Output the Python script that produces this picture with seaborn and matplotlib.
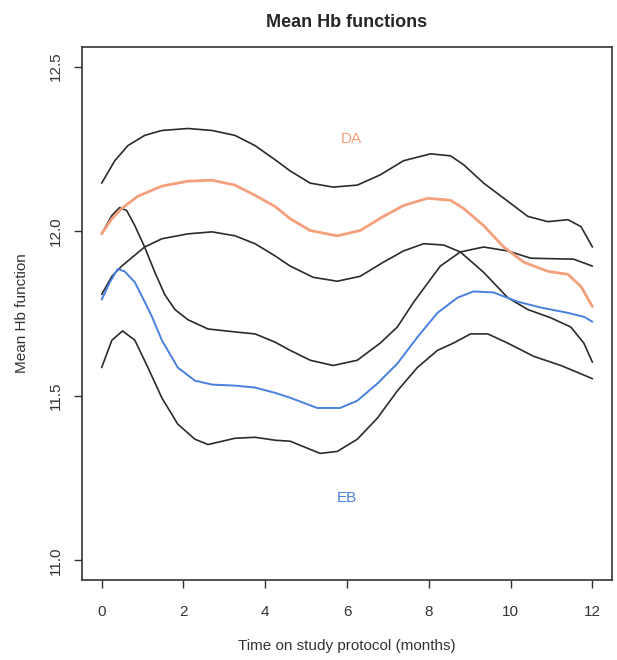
import numpy as np
import pandas as pd
import seaborn as sns
import matplotlib
matplotlib.use('Agg')
import matplotlib.pyplot as plt

# values (time in months, mean Hb)
da_upper_t = [0, 0.32, 0.64, 1.05, 1.47, 2.11, 2.70, 3.26, 3.75, 4.24, 4.61, 5.10, 5.66, 6.25, 6.81,
              7.38, 8.04, 8.53, 8.85, 9.34, 9.93, 10.42, 10.91, 11.40, 11.72, 12.0]
da_upper_y = [12.146, 12.214, 12.260, 12.291, 12.306, 12.312, 12.306, 12.291, 12.260, 12.217, 12.183, 12.146,
              12.134, 12.140, 12.171, 12.214, 12.235, 12.229, 12.202, 12.146, 12.091, 12.045, 12.029, 12.035,
              12.014, 11.952]

da_mean_t = [0, 0.25, 0.49, 0.88, 1.47, 2.11, 2.70, 3.26, 3.75, 4.24, 4.61, 5.10, 5.76, 6.32, 6.89,
             7.38, 7.97, 8.53, 8.85, 9.34, 9.83, 10.32, 10.91, 11.40, 11.72, 12.0]
da_mean_y = [11.992, 12.038, 12.069, 12.106, 12.137, 12.152, 12.155, 12.140, 12.109, 12.075, 12.038, 12.002,
             11.986, 12.002, 12.045, 12.078, 12.100, 12.094, 12.069, 12.017, 11.952, 11.906, 11.878, 11.869,
             11.832, 11.771]

da_lower_t = [0, 0.25, 0.49, 1.05, 1.47, 2.11, 2.70, 3.26, 3.75, 4.24, 4.61, 5.17, 5.76, 6.32, 6.89,
              7.38, 7.87, 8.36, 8.77, 9.34, 9.93, 10.42, 10.98, 11.47, 11.79, 12.0]
da_lower_y = [11.808, 11.863, 11.894, 11.952, 11.977, 11.992, 11.998, 11.986, 11.962, 11.925, 11.894, 11.860,
              11.848, 11.863, 11.906, 11.940, 11.962, 11.958, 11.937, 11.875, 11.798, 11.762, 11.737, 11.709,
              11.660, 11.602]

eb_upper_t = [0, 0.25, 0.44, 0.61, 0.81, 1.05, 1.30, 1.54, 1.79, 2.11, 2.60, 3.26, 3.75, 4.24, 4.61,
              5.10, 5.66, 6.25, 6.81, 7.23, 7.62, 8.04, 8.28, 8.77, 9.34, 9.93, 10.49, 11.54, 12.0]
eb_upper_y = [11.992, 12.048, 12.072, 12.063, 12.017, 11.952, 11.875, 11.808, 11.762, 11.731, 11.703, 11.694,
              11.688, 11.663, 11.638, 11.608, 11.592, 11.608, 11.660, 11.709, 11.783, 11.854, 11.894, 11.937,
              11.952, 11.940, 11.918, 11.915, 11.894]

eb_mean_t = [0, 0.20, 0.39, 0.56, 0.81, 1.05, 1.23, 1.47, 1.86, 2.28, 2.70, 3.26, 3.75, 4.24, 4.61,
             5.27, 5.83, 6.25, 6.74, 7.23, 7.72, 8.21, 8.70, 9.09, 9.58, 10.17, 10.74, 11.40, 11.79, 12.0]
eb_mean_y = [11.792, 11.845, 11.885, 11.878, 11.845, 11.786, 11.740, 11.669, 11.586, 11.546, 11.534, 11.531,
             11.525, 11.509, 11.494, 11.463, 11.463, 11.485, 11.537, 11.598, 11.678, 11.752, 11.798, 11.817,
             11.814, 11.786, 11.768, 11.752, 11.740, 11.725]

eb_lower_t = [0, 0.25, 0.51, 0.81, 1.13, 1.47, 1.86, 2.28, 2.60, 3.26, 3.75, 4.24, 4.61, 5.34, 5.76,
              6.25, 6.74, 7.23, 7.72, 8.21, 8.60, 9.02, 9.44, 9.93, 10.56, 11.23, 12.0]
eb_lower_y = [11.586, 11.669, 11.697, 11.669, 11.586, 11.494, 11.414, 11.368, 11.352, 11.371, 11.374, 11.365,
              11.362, 11.325, 11.331, 11.368, 11.432, 11.515, 11.586, 11.638, 11.660, 11.688, 11.688, 11.660,
              11.620, 11.592, 11.552]

x_ticks = [0, 2, 4, 6, 8, 10, 12]
y_ticks = [11.0, 11.5, 12.0, 12.5]

sns.set_style('white')
plt.rcParams['font.family'] = ['Liberation Sans', 'DejaVu Sans']

fig = plt.figure(figsize=(6.17, 6.6), dpi=100)
ax = fig.add_axes([0.133, 0.121, 0.859, 0.808])

black = '#2b2b2b'
orange = '#f4a07c'
blue = '#4a80e0'

for tt, yy in [(da_upper_t, da_upper_y), (da_lower_t, da_lower_y),
               (eb_upper_t, eb_upper_y), (eb_lower_t, eb_lower_y)]:
    sns.lineplot(x=tt, y=yy, color=black, lw=1.2, ax=ax)
sns.lineplot(x=da_mean_t, y=da_mean_y, color=orange, lw=2.0, ax=ax)
sns.lineplot(x=eb_mean_t, y=eb_mean_y, color=blue, lw=1.4, ax=ax)

ax.text(6.1, 12.28, 'DA', color=orange, fontsize=11, ha='center', va='center')
ax.text(6.0, 11.19, 'EB', color=blue, fontsize=11, ha='center', va='center')

ax.set_xlim(-0.48, 12.48)
ax.set_ylim(10.94, 12.56)
ax.set_xticks(x_ticks)
ax.set_yticks(y_ticks)
ax.set_yticklabels([f'{v:.1f}' for v in y_ticks], rotation=90, va='center')
ax.tick_params(axis='both', direction='out', length=6, width=1, color='#333333',
               labelsize=11, labelcolor='#333333', bottom=True, left=True)
ax.tick_params(axis='x', pad=12)
ax.tick_params(axis='y', pad=8)
for s in ax.spines.values():
    s.set_color('#333333')
    s.set_linewidth(1.2)

ax.set_xlabel('Time on study protocol (months)', fontsize=11, color='#333333', labelpad=14)
ax.set_ylabel('Mean Hb function', fontsize=11, color='#333333', labelpad=14)
ax.set_title('Mean Hb functions', fontsize=13, fontweight='bold', pad=14)

fig.savefig('out.png', dpi=100)
